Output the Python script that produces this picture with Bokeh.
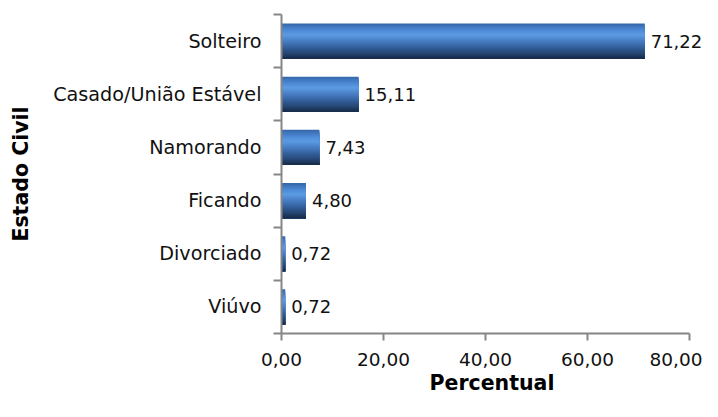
from bokeh.plotting import figure
from bokeh.models import Range1d, FixedTicker, ColumnDataSource, LabelSet
from bokeh.transform import dodge
from bokeh.core.properties import value
from bokeh.embed import file_html
from bokeh.resources import INLINE

categories = ["Viúvo", "Divorciado", "Ficando", "Namorando", "Casado/União Estável", "Solteiro"]
values = [0.72, 0.72, 4.80, 7.43, 15.11, 71.22]
x_ticks = [0, 20, 40, 60, 80]
x_tick_labels = ["0,00", "20,00", "40,00", "60,00", "80,00"]

def fmt(v):
    return f"{v:.2f}".replace(".", ",")

ypos = [i + 0.5 for i in range(len(categories))]
source = ColumnDataSource(dict(y=ypos, v=values, lab=[fmt(v) for v in values], cat=categories))

FONT = "DejaVu Sans"
p = figure(width=702, height=401, output_backend="svg", toolbar_location=None,
           x_range=Range1d(0, 82.55), y_range=Range1d(0, len(categories)),
           min_border_left=281, min_border_right=0, min_border_top=14, min_border_bottom=68)
p.outline_line_color = None
p.grid.visible = False
p.background_fill_color = "white"
p.border_fill_color = "white"

stops = [(0.0, (0x35, 0x66, 0xa8)), (0.18, (0x4c, 0x88, 0xd4)), (0.32, (0x5b, 0x9b, 0xe3)),
         (0.48, (0x4a, 0x80, 0xc6)), (0.68, (0x33, 0x60, 0x9c)), (0.86, (0x24, 0x44, 0x70)),
         (1.0, (0x18, 0x29, 0x46))]

def col(t):
    for (t0, c0), (t1, c1) in zip(stops[:-1], stops[1:]):
        if t0 <= t <= t1:
            f = (t - t0) / (t1 - t0) if t1 > t0 else 0
            c = [round(a + (b - a) * f) for a, b in zip(c0, c1)]
            return "#%02x%02x%02x" % tuple(c)
    return "#%02x%02x%02x" % stops[-1][1]

bar_h = 0.66
N = 30
sh = bar_h / N
for i in range(N):
    t = (i + 0.5) / N
    off = -i * sh / 2
    p.hbar(y=dodge("y", off, range=p.y_range), right="v", left=0, height=bar_h - i * sh,
           source=source, fill_color=col(t), line_color=None)

labels = LabelSet(x="v", y="y", text="lab", source=source, x_offset=6, y_offset=0,
                  text_baseline="middle", text_align="left", text_font=value(FONT),
                  text_font_size="18px", text_color="#111111")
p.add_layout(labels)

ax = p.xaxis[0]
ax.ticker = FixedTicker(ticks=x_ticks)
ax.bounds = (0, 80)
ax.major_label_overrides = {t: l for t, l in zip(x_ticks, x_tick_labels)}
ax.axis_label = "Percentual"

ay = p.yaxis[0]
ay.ticker = FixedTicker(ticks=ypos, minor_ticks=list(range(len(categories) + 1)))
ay.major_label_overrides = {y: c for y, c in zip(ypos, categories)}
ay.axis_label = "Estado Civil"
ay.major_tick_out = 0
ay.major_tick_in = 0
ay.minor_tick_out = 8
ay.minor_tick_in = 0
ay.major_label_standoff = 12
ax.major_tick_out = 7
ax.major_tick_in = 0
ax.minor_tick_out = 0
ax.minor_tick_in = 0
ax.major_label_standoff = 12

for a in (ax, ay):
    a.axis_line_color = "#868686"
    a.axis_line_width = 2
    a.major_tick_line_color = "#868686"
    a.major_tick_line_width = 2
    a.minor_tick_line_color = "#868686"
    a.minor_tick_line_width = 2
    a.major_label_text_font = FONT
    a.major_label_text_font_size = "18.5px"
    a.major_label_text_color = "#111111"
    a.axis_label_text_font = FONT
    a.axis_label_text_font_size = "20.5px"
    a.axis_label_text_font_style = "bold"
    a.axis_label_text_color = "#000000"

ay.major_label_text_font_size = "19.2px"
ax.axis_label_standoff = 2
ay.axis_label_standoff = 17

open("out.html", "w").write(file_html(p, INLINE))
